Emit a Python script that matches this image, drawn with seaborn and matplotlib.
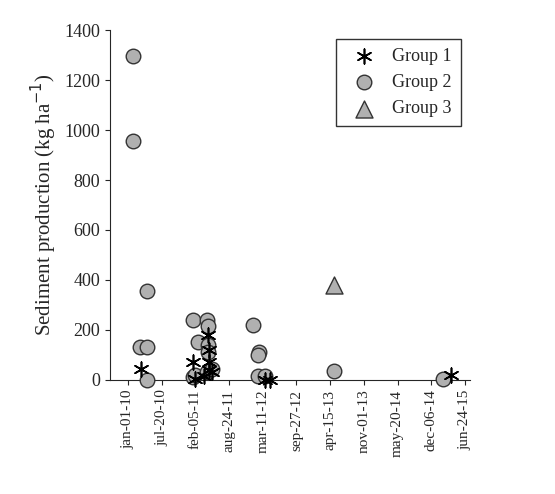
import matplotlib
matplotlib.use("Agg")
import matplotlib.pyplot as plt
import seaborn as sns
import pandas as pd

sns.set_style("ticks")
plt.rcParams['font.family'] = ['Liberation Serif', 'DejaVu Serif']

# days since 2010-01-01
g1_day = [77, 386, 475, 480, 480, 480, 395, 450, 499, 813, 843, 1917]
g1_val = [45, 70, 180, 120, 70, 40, 5, 15, 30, 0, 0, 20]
g2_day = [30, 30, 113, 71, 113, 113, 386, 470, 475, 415, 475, 475, 386, 400, 470, 499, 742, 777, 772, 772, 813, 1222, 1869]
g2_val = [1295, 955, 355, 130, 130, 0, 240, 240, 215, 150, 140, 110, 10, 20, 30, 45, 220, 110, 100, 15, 15, 35, 5]
g3_day = [1222]
g3_val = [380]
tick_days = [0, 200, 400, 600, 800, 1000, 1200, 1400, 1600, 1800, 2000]
tick_labels = ["jan-01-10", "jul-20-10", "feb-05-11", "aug-24-11", "mar-11-12", "sep-27-12",
               "apr-15-13", "nov-01-13", "may-20-14", "dec-06-14", "jun-24-15"]

fig = plt.figure(figsize=(5.55, 4.94), dpi=100)
ax = fig.add_axes([0.198, 0.231, 0.649, 0.708])
sns.scatterplot(x=g2_day, y=g2_val, marker="o", color="#b0b0b0", edgecolor="#333333",
                s=110, linewidth=1, ax=ax, label="Group 2", zorder=3)
sns.scatterplot(x=g1_day, y=g1_val, marker=(6, 2, 0), color="black",
                s=110, linewidth=1.2, ax=ax, label="Group 1", zorder=4)
sns.scatterplot(x=g3_day, y=g3_val, marker="^", color="#b0b0b0", edgecolor="#333333",
                s=150, linewidth=1, ax=ax, label="Group 3", zorder=3)
for c in ax.collections:
    c.set_clip_on(False)
ax.set_xlim(-107, 2030)
ax.set_ylim(0, 1400)
ax.set_yticks(range(0, 1401, 200))
ax.set_xticks(tick_days)
ax.set_xticklabels(tick_labels, rotation=90, fontsize=11)
ax.tick_params(axis='y', labelsize=13, direction='out')
ax.set_ylabel("Sediment production (kg ha$^{-1}$)", fontsize=15)
sns.despine(ax=ax)
h, l = ax.get_legend_handles_labels()
order = [l.index(n) for n in ["Group 1", "Group 2", "Group 3"]]
leg = ax.legend([h[i] for i in order], [l[i] for i in order], loc="upper right", fontsize=13,
                frameon=True, fancybox=False, edgecolor="black", borderpad=0.5, handletextpad=0.6)
leg.get_frame().set_linewidth(1)
fig.savefig("out.png", dpi=100)
